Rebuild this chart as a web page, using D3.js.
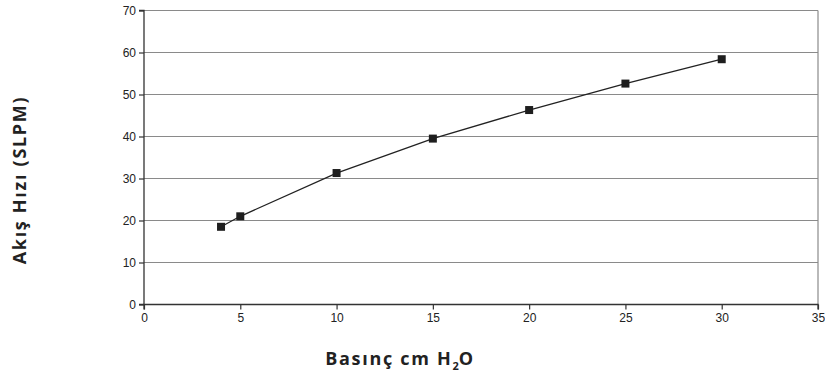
<!DOCTYPE html>
<html><head><meta charset="utf-8">
<script src="https://cdn.jsdelivr.net/npm/d3@7"></script>
<style>body{margin:0;background:#fff}svg{display:block}</style>
</head><body>
<svg id="c" width="825" height="372"></svg>
<script>
const pressure = [4, 5, 10, 15, 20, 25, 30];
const flow = [18.5, 21.0, 31.3, 39.5, 46.3, 52.6, 58.4];
const xTicks = [0, 5, 10, 15, 20, 25, 30, 35];
const yTicks = [0, 10, 20, 30, 40, 50, 60, 70];

const svg = d3.select("#c");
const L = 144, R = 818, T = 10.5, B = 304.5;
const x = d3.scaleLinear().domain([0, 35]).range([L, R]);
const y = d3.scaleLinear().domain([0, 70]).range([B, T]);

// gridlines
svg.append("g").selectAll("line").data(yTicks.filter(d => d > 0)).join("line")
  .attr("x1", L).attr("x2", R).attr("y1", d => y(d)).attr("y2", d => y(d))
  .attr("stroke", "#8a8a8a").attr("stroke-width", 1.2);
// right border
svg.append("line").attr("x1", R).attr("x2", R).attr("y1", T).attr("y2", B)
  .attr("stroke", "#8a8a8a").attr("stroke-width", 1.2);

// axes
const xa = svg.append("g").attr("transform", `translate(0,${B})`)
  .call(d3.axisBottom(x).tickValues(xTicks).tickSize(5).tickPadding(4));
const ya = svg.append("g").attr("transform", `translate(${L},0)`)
  .call(d3.axisLeft(y).tickValues(yTicks).tickSize(5).tickPadding(3));
[xa, ya].forEach(a => {
  a.select(".domain").attr("stroke", "#333").attr("stroke-width", 1.3);
  a.selectAll(".tick line").attr("stroke", "#333").attr("stroke-width", 1.2);
  a.selectAll("text").attr("font-family", "Liberation Sans, Arial, sans-serif")
    .attr("font-size", 12).attr("fill", "#222");
});
xa.select(".domain").attr("d", `M${L},5V0H${R}V5`);
ya.select(".domain").attr("d", `M-5,${T}H0V${B}H-5`);

// line
svg.append("path").datum(pressure.map((p, i) => [p, flow[i]]))
  .attr("d", d3.line().x(d => x(d[0])).y(d => y(d[1])))
  .attr("fill", "none").attr("stroke", "#222").attr("stroke-width", 1.3);
// markers
svg.append("g").selectAll("rect").data(pressure.map((p, i) => [p, flow[i]])).join("rect")
  .attr("x", d => x(d[0]) - 4).attr("y", d => y(d[1]) - 4)
  .attr("width", 8).attr("height", 8).attr("fill", "#1e1e1e");

// titles
svg.append("text").attr("transform", "translate(26,180) rotate(-90)")
  .attr("text-anchor", "middle").attr("font-family", "Open Sans, sans-serif")
  .attr("font-weight", "bold").attr("font-size", 18).attr("fill", "#222")
  .attr("letter-spacing", 1.7)
  .text("Akış Hızı (SLPM)");
const xt = svg.append("text").attr("x", 400).attr("y", 364.5)
  .attr("text-anchor", "middle").attr("font-family", "Open Sans, sans-serif")
  .attr("font-weight", "bold").attr("font-size", 18).attr("fill", "#222")
  .attr("letter-spacing", 1.7);
xt.append("tspan").text("Basınç cm H");
xt.append("tspan").attr("font-size", 11).attr("dy", 5).attr("letter-spacing", 0).text("2");
xt.append("tspan").attr("dy", -5).text("O");
</script>
</body></html>
